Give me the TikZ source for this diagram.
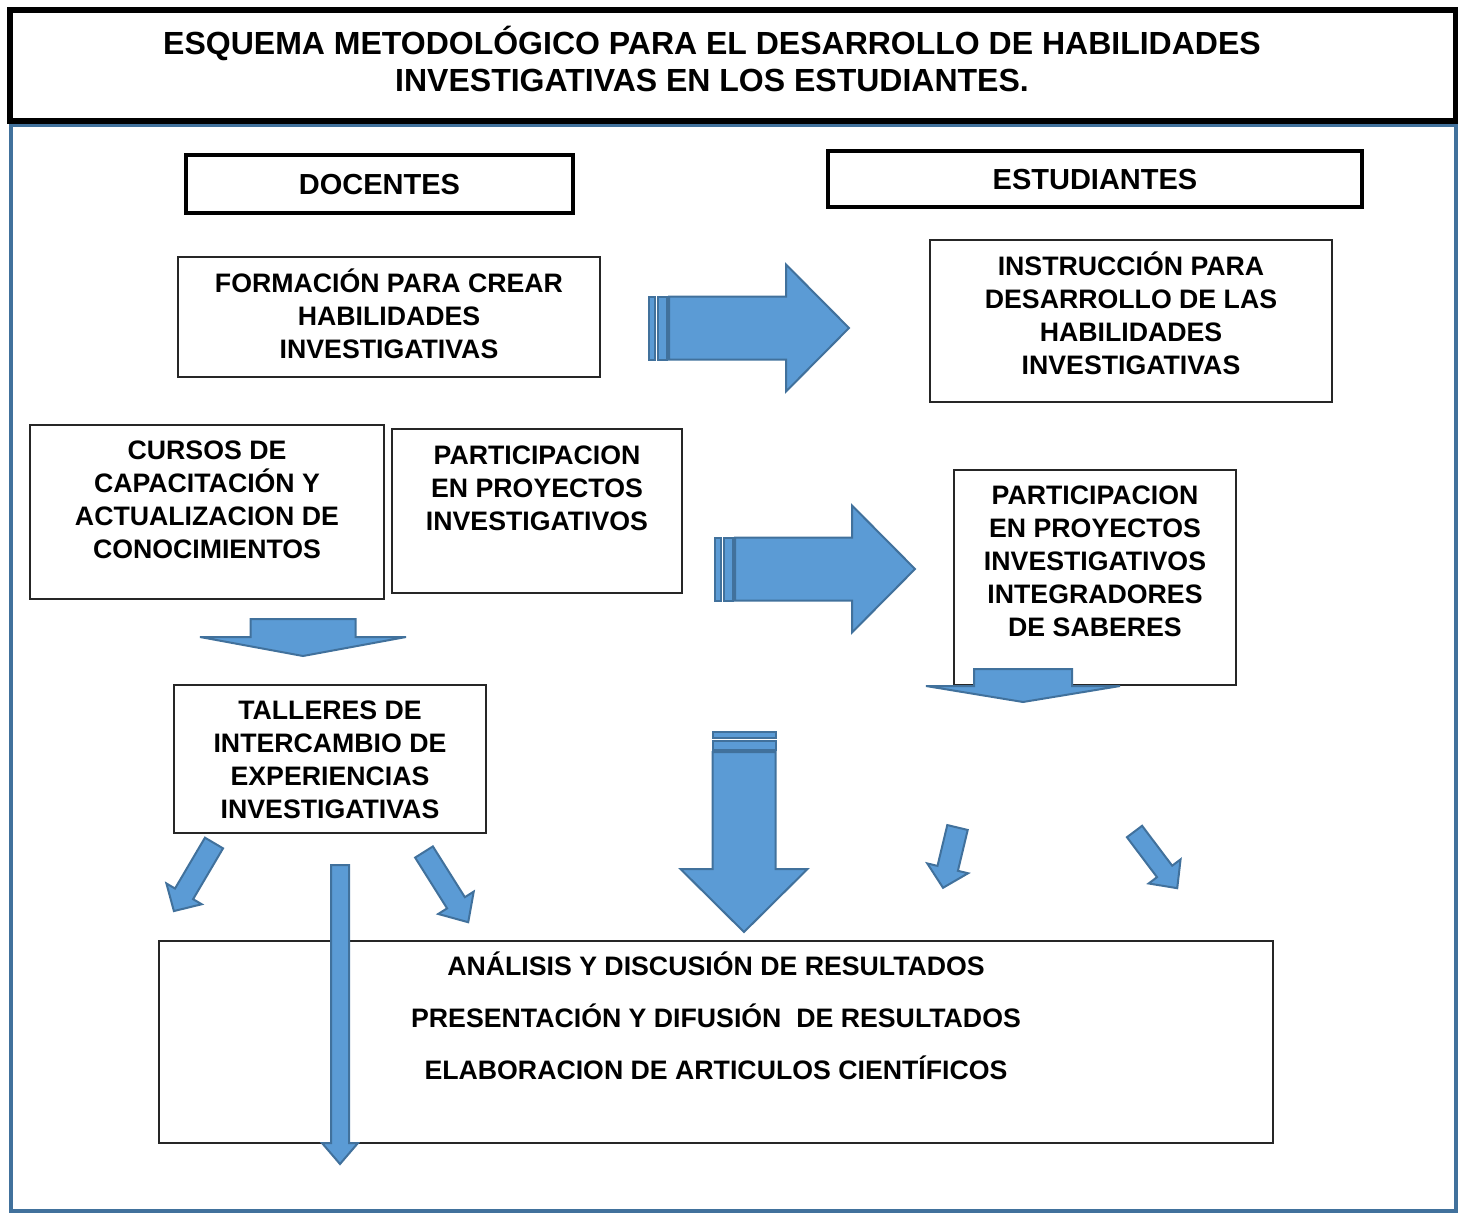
\documentclass[tikz,border=0pt]{standalone}
\usepackage{fontspec}
\setmainfont{Liberation Sans}
\usetikzlibrary{positioning}

\definecolor{arrfill}{HTML}{5B9BD5}
\definecolor{arrline}{HTML}{41719C}

% block arrow: tail, angle, length, half body, half head, head length
\newcommand{\blockarrow}[6]{%
  \draw[blockarr, shift={(#1)}, rotate=#2]
    (0,-#4) -- (#3-#6,-#4) -- (#3-#6,-#5) -- (#3,0) -- (#3-#6,#5) -- (#3-#6,#4) -- (0,#4) -- cycle;}

% striped arrow: tail, angle
\newcommand{\stripearrow}[2]{%
  \begin{scope}[shift={(#1)}, rotate=#2]
    \draw[blockarr] (0,-31.5) rectangle (5.5,31.5);
    \draw[blockarr] (8.5,-31.5) rectangle (17.5,31.5);
    \draw[blockarr] (20,-31.5) -- (137,-31.5) -- (137,-63.5) -- (200,0)
      -- (137,63.5) -- (137,31.5) -- (20,31.5) -- cycle;
  \end{scope}}

\begin{document}
\begin{tikzpicture}[x=1pt, y=-1pt,
    blockarr/.style={fill=arrfill, draw=arrline, line width=2pt, line join=miter},
    thinbox/.style={draw=black!85, line width=1.2pt, inner sep=0pt},
    headbox/.style={draw=black, line width=4.5pt, inner sep=0pt,
      font=\fontsize{29pt}{34pt}\selectfont\bfseries},
    lbl/.style={align=center, inner sep=0pt,
      font=\fontsize{26.7pt}{33pt}\selectfont\bfseries}]
  \useasboundingbox (0,0) rectangle (1458,1212);

  % frames
  \draw[arrline, line width=4pt] (10.5,125.5) rectangle (1456,1211);
  \draw[black, line width=6pt] (10,10) rectangle (1456,121);
  \node[align=center, inner sep=0pt, font=\fontsize{32pt}{37pt}\selectfont\bfseries]
    (title) at (712,58.5) {ESQUEMA METODOLÓGICO PARA EL DESARROLLO DE HABILIDADES\\
      INVESTIGATIVAS EN LOS ESTUDIANTES.};

  % headers
  \node[headbox, minimum width=387pt, minimum height=58pt, text height=20pt, text depth=0pt]
    (docentes) at (379.5,184) {DOCENTES};
  \node[headbox, minimum width=534pt, minimum height=56pt, text height=20pt, text depth=0pt]
    (estudiantes) at (1095,179) {ESTUDIANTES};

  % boxes
  \node[thinbox, minimum width=422pt, minimum height=120pt] (formB) at (389,317) {};
  \node[lbl] (formT) at (389,314) {FORMACIÓN PARA CREAR\\HABILIDADES\\INVESTIGATIVAS};
  \node[thinbox, minimum width=402pt, minimum height=162pt] (instB) at (1131,321) {};
  \node[lbl] (instT) at (1131,313.5) {INSTRUCCIÓN PARA\\DESARROLLO DE LAS\\HABILIDADES\\INVESTIGATIVAS};
  \node[thinbox, minimum width=354pt, minimum height=174pt] (cursB) at (207,512) {};
  \node[lbl] (cursT) at (207,499.5) {CURSOS DE\\CAPACITACIÓN Y\\ACTUALIZACION DE\\CONOCIMIENTOS};
  \node[thinbox, minimum width=290pt, minimum height=164pt] (partB) at (537,511) {};
  \node[lbl] (partT) at (537,488) {PARTICIPACION\\EN PROYECTOS\\INVESTIGATIVOS};
  \node[thinbox, minimum width=282pt, minimum height=215pt] (partEB) at (1095,577.5) {};
  \node[lbl] (partET) at (1095,561.5) {PARTICIPACION\\EN PROYECTOS\\INVESTIGATIVOS\\INTEGRADORES\\DE SABERES};
  \node[thinbox, minimum width=312pt, minimum height=148pt] (tallB) at (330,759) {};
  \node[lbl] (tallT) at (330,760) {TALLERES DE\\INTERCAMBIO DE\\EXPERIENCIAS\\INVESTIGATIVAS};
  \node[thinbox, minimum width=1114pt, minimum height=202pt] (resB) at (716,1042) {};
  \node[lbl, text height=19pt, text depth=0pt] (res1) at (716,966) {ANÁLISIS Y DISCUSIÓN DE RESULTADOS};
  \node[lbl, text height=19pt, text depth=0pt] (res2) at (716,1018) {PRESENTACIÓN Y DIFUSIÓN~ DE RESULTADOS};
  \node[lbl, text height=19pt, text depth=0pt] (res3) at (716,1070) {ELABORACION DE ARTICULOS CIENTÍFICOS};

  % arrows
  \stripearrow{649,328}{0}
  \stripearrow{715,569}{0}
  \stripearrow{744,732}{-90}
  \blockarrow{303,619}{-90}{37}{52.5}{103}{19}
  \blockarrow{1023,669}{-90}{33}{49}{97}{16}
  \blockarrow{214,843}{-120.5}{79}{10.5}{20.5}{20}
  \blockarrow{424,852}{-57.8}{83}{10.5}{21}{23}
  \blockarrow{957.5,827.5}{-103.5}{62}{10.5}{21}{20}
  \blockarrow{1134.5,831.5}{-53}{71}{9.5}{20}{21}
  \blockarrow{340,865}{-90}{299}{9}{18}{21}
\end{tikzpicture}
\end{document}
